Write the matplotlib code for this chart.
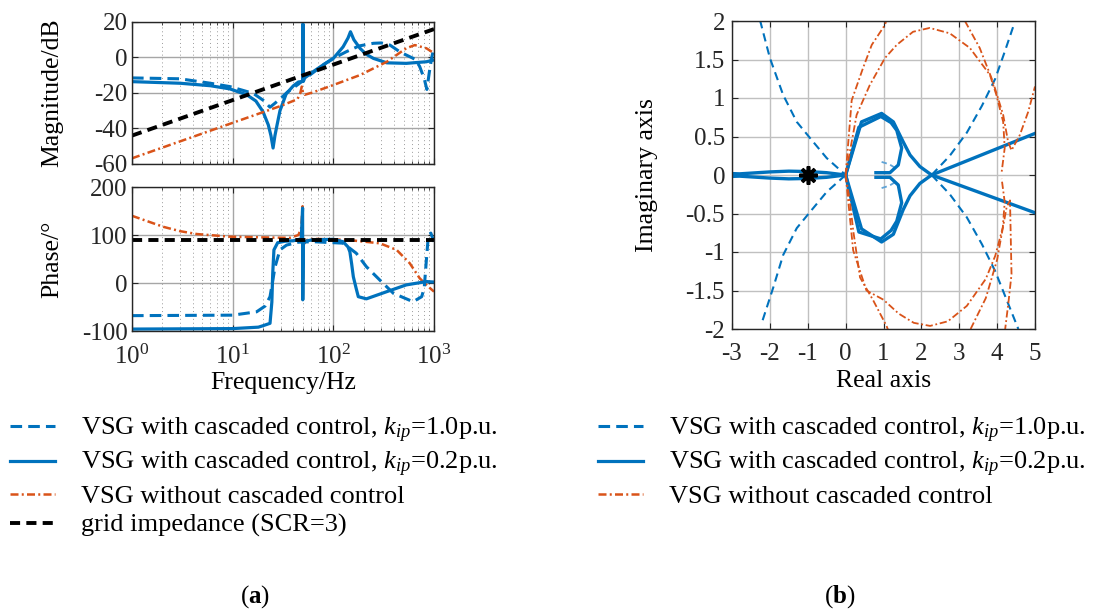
import numpy as np
import matplotlib
matplotlib.use("Agg")
import matplotlib.pyplot as plt
from matplotlib.ticker import LogLocator, NullFormatter

plt.rcParams["font.family"] = ["Liberation Serif", "DejaVu Serif"]
plt.rcParams["mathtext.fontset"] = "custom"
plt.rcParams["mathtext.rm"] = "Liberation Serif"
plt.rcParams["mathtext.it"] = "Liberation Serif:italic"
plt.rcParams["mathtext.bf"] = "Liberation Serif:bold"
plt.rcParams["axes.unicode_minus"] = False

BLUE = "#0072BD"
ORANGE = "#D95319"

# ---------------- (a) Bode data ----------------
f_grid = [1, 1000]
mag_grid = [-44, 16]
ph_grid = [90, 90]

f_k10_mag = [1, 3, 6, 9.4, 16, 20, 23.5, 26, 30, 35, 45, 55, 63, 80, 100, 135, 180, 250,
             300, 365, 455, 530, 650, 720, 800, 850, 900, 950, 1000]
mag_k10 = [-11.5, -12, -14.5, -16.4, -20.2, -24, -28, -26, -23, -19.5, -15, -11, -8.5, -4, -0.5,
           3.3, 6.5, 8, 8.2, 7, 3.3, 1.4, -1, -5, -12, -18, -8, 0, 6]

f_k02_mag = [1, 3, 6, 9.4, 13.8, 17, 20, 22.6, 24, 25.2, 26.3, 27.6, 29.5, 34, 40, 45, 49.5,
             49.9, 50.3, 52, 63, 80, 100, 125, 140, 148, 160, 184, 210, 250, 340, 530, 840, 1000]
mag_k02 = [-13.6, -14.5, -15.9, -17.7, -21, -24.5, -30.5, -38, -44, -51, -44, -38, -30, -20.5,
           -16, -13.8, -13.5, 19, -13.5, -11.5, -8, -4, -0.5, 6, 11, 14.5, 10, 5.2, 2, -0.5,
           -3, -3.3, -2.4, -1.4]

f_wo_mag = [1, 10, 30, 44, 47, 48.6, 50, 52, 63, 100, 184, 340, 530, 645, 840, 1000]
mag_wo = [-56.8, -36.8, -27.3, -23.5, -20, -16.4, -20, -21, -19.6, -15.5, -9.9, -2.4, 5.2, 7,
          5.2, 2.4]

f_k10_ph = [1, 10, 17.3, 21, 23.5, 26.4, 29.5, 34.3, 45, 63, 125, 169, 213, 290, 395, 620,
            755, 800, 840, 880, 930, 1000]
ph_k10 = [-68, -67, -60, -48, -28.5, 34, 69, 79, 85, 86, 83, 62, 34, 6, -21.5, -39, -28.5,
          -10, 48, 100, 104, 86]

f_k02_ph = [1, 10, 18, 20, 23.5, 24.5, 25, 25.7, 28, 33, 40, 48, 49.5, 49.7, 50.3, 51, 55, 63,
            100, 125, 140, 146, 152, 158, 168, 177, 213, 340, 530, 840, 1000]
ph_k02 = [-96, -95, -92, -89, -84, -40, 20, 69, 84, 87, 88, 92, 156, -35, 80, 85, 88, 90, 91,
          86, 75, 65, 40, 13, -10, -28.5, -33, -18, -4, 3, 2]

f_wo_ph = [1, 2.05, 3, 4.4, 9.4, 20, 37, 45, 48, 49.5, 49.7, 50.5, 55, 63, 135, 290, 425, 575,
           720, 850, 1000]
ph_wo = [140, 117, 108, 102, 96.5, 95, 94, 100, 115, 160, -35, 80, 90, 92, 90, 82.7, 69, 41,
         10, -5, -18]

# ---------------- (b) Nyquist data ----------------
# kip = 1.0 (dashed)
k10_re_ul = [-2.26, -2.0, -1.65, -1.29, -0.94, -0.5, 0.0]
k10_im_ul = [2.01, 1.52, 1.04, 0.69, 0.48, 0.22, 0.0]
k10_re_ll = [0.0, -0.5, -0.94, -1.29, -1.65, -1.91, -2.22]
k10_im_ll = [0.0, -0.22, -0.48, -0.69, -1.04, -1.46, -1.93]
k10_re_ur = [2.27, 2.75, 3.2, 3.6, 3.95, 4.2, 4.42]
k10_im_ur = [0.0, 0.25, 0.55, 0.9, 1.25, 1.6, 1.92]
k10_re_lr = [2.27, 2.75, 3.2, 3.6, 3.95, 4.25, 4.56]
k10_im_lr = [0.0, -0.25, -0.55, -0.9, -1.25, -1.62, -2.0]
k10_re_mid = [0.95, 1.15, 1.35]
k10_im_mid = [0.17, 0.14, 0.08]

# kip = 0.2 (solid)
k02_re_lens = [-3.1, -2.8, -2.0, -1.5, -1.0, -0.5, 0.0]
k02_im_lens = [0.02, 0.015, 0.04, 0.05, 0.045, 0.03, 0.0]
k02_re_outer = [0.0, 0.42, 0.95, 1.26, 1.52, 1.7, 1.96, 2.27]
k02_im_outer_up = [0.0, 0.69, 0.8, 0.69, 0.43, 0.26, 0.11, 0.0]
k02_im_outer_lo = [0.0, -0.70, -0.87, -0.77, -0.45, -0.27, -0.11, 0.0]
k02_re_inner = [0.0, 0.35, 0.93, 1.2, 1.35, 1.48, 1.39, 1.17, 0.8]
k02_im_inner_up = [0.0, 0.62, 0.76, 0.68, 0.58, 0.35, 0.13, 0.03, 0.03]
k02_im_inner_lo = [0.0, -0.74, -0.83, -0.72, -0.6, -0.36, -0.13, -0.03, -0.03]
k02_re_ray = [2.27, 5.0]
k02_im_ray_up = [0.0, 0.54]
k02_im_ray_lo = [0.0, -0.49]

# without cascaded control (dash-dot)
wo_re_b1u = [0.0, 0.16, 0.46, 0.69, 1.04, 1.1]
wo_im_b1u = [0.0, 0.97, 1.39, 1.69, 1.95, 2.05]
wo_re_b1l = [0.0, 0.11, 0.2, 0.38, 0.73, 1.08, 1.15]
wo_im_b1l = [0.0, -0.33, -0.72, -1.33, -1.63, -1.96, -2.05]
wo_re_b2u = [0.0, 0.29, 0.64, 1.04, 1.35, 1.78, 2.22, 2.75, 3.28, 3.81, 3.98, 4.16, 4.2, 4.12]
wo_im_b2u = [0.0, 0.78, 1.17, 1.52, 1.69, 1.86, 1.91, 1.84, 1.65, 1.3, 1.04, 0.69, 0.35, 0.04]
wo_re_b2l = [0.0, 0.2, 0.55, 1.0, 1.4, 1.8, 2.23, 2.7, 3.2, 3.7, 3.95, 4.15, 4.2, 4.12]
wo_im_b2l = [0.0, -0.98, -1.5, -1.62, -1.8, -1.92, -1.96, -1.9, -1.7, -1.35, -1.05, -0.68,
             -0.35, -0.05]
wo_re_b3u = [3.15, 3.54, 3.89, 4.16, 4.29, 4.38, 4.6, 4.82, 5.0]
wo_im_b3u = [2.0, 1.65, 1.21, 0.78, 0.43, 0.32, 0.52, 0.82, 1.15]
wo_re_b3l = [3.3, 3.7, 4.0, 4.12, 4.25, 4.34, 4.38, 4.3, 4.2]
wo_im_b3l = [-2.0, -1.6, -1.1, -0.77, -0.42, -0.33, -1.29, -1.65, -2.05]

crit_re = [-1.0]
crit_im = [0.0]

labels = [r"VSG with cascaded control, $k_{ip}$=1.0p.u.",
          r"VSG with cascaded control, $k_{ip}$=0.2p.u.",
          "VSG without cascaded control",
          "grid impedance (SCR=3)"]

W, H = 1093, 612
fig = plt.figure(figsize=(W / 100, H / 100), dpi=100)


def box(l, t, r, b):
    return [l / W, 1 - b / H, (r - l) / W, (b - t) / H]


def style(ax, log=False):
    ax.tick_params(direction="in", which="both", top=True, right=True, labelsize=18,
                   colors="#262626", length=4, pad=3)
    ax.tick_params(which="minor", length=2)
    for s in ax.spines.values():
        s.set_color("#262626")
        s.set_linewidth(1.0)
    ax.grid(True, which="major", color="#a6a6a6", lw=1.0)
    if log:
        ax.xaxis.set_minor_locator(LogLocator(base=10, subs=np.arange(2, 10), numticks=20))
        ax.xaxis.set_minor_formatter(NullFormatter())
        ax.grid(True, which="minor", color="#9a9a9a", lw=0.7, ls=(0, (1, 3)))
    ax.set_axisbelow(True)


ax_m = fig.add_axes(box(132, 22, 434, 164))
ax_p = fig.add_axes(box(132, 187, 434, 331))
ax_n = fig.add_axes(box(732, 21, 1035, 329))

sty_k10 = dict(color=BLUE, lw=2.2, dashes=(3.8, 2.0))
sty_k02 = dict(color=BLUE, lw=2.3)
sty_wo = dict(color=ORANGE, lw=1.8, dashes=(3.2, 1.3, 0.8, 1.3))
sty_grid = dict(color="black", lw=2.8, dashes=(2.6, 1.6))

h1, = ax_m.semilogx(f_k10_mag, mag_k10, **sty_k10)
h2, = ax_m.semilogx(f_k02_mag, mag_k02, **sty_k02)
h3, = ax_m.semilogx(f_wo_mag, mag_wo, **sty_wo)
h4, = ax_m.semilogx(f_grid, mag_grid, **sty_grid)

# orange first so the blue 50 Hz spike stays visible on top
ax_p.semilogx(f_wo_ph, ph_wo, **sty_wo)
ax_p.semilogx(f_k10_ph, ph_k10, **sty_k10)
ax_p.semilogx(f_k02_ph, ph_k02, **sty_k02)
ax_p.semilogx(f_grid, ph_grid, **sty_grid)

for ax in (ax_m, ax_p):
    ax.set_xlim(1, 1000)
    style(ax, log=True)
    ax.yaxis.set_label_coords(-0.228, 0.5)

ax_m.set_ylim(-60, 20)
ax_m.set_yticks([-60, -40, -20, 0, 20])
ax_m.tick_params(labelbottom=False)
ax_m.set_ylabel("Magnitude/dB", fontsize=18.5)

ax_p.set_ylim(-100, 200)
ax_p.set_yticks([-100, 0, 100, 200])
ax_p.set_xticks([1, 10, 100, 1000])
ax_p.set_xticklabels([r"$10^{0}$", r"$10^{1}$", r"$10^{2}$", r"$10^{3}$"])
ax_p.tick_params(axis="x", pad=10)
ax_p.set_ylabel("Phase/\u00b0", fontsize=18.5)
ax_p.set_xlabel("Frequency/Hz", fontsize=18.5)
ax_p.xaxis.set_label_coords(0.5, -0.283)

# Nyquist
nd = dict(color=BLUE, lw=1.5, dashes=(4, 2.5))
ns = dict(color=BLUE, lw=2.4)
no = dict(color=ORANGE, lw=1.3, dashes=(4, 1.5, 1, 1.5))
ax_n.plot(k10_re_ul, k10_im_ul, **nd)
ax_n.plot(k10_re_ll, k10_im_ll, **nd)
ax_n.plot(k10_re_ur, k10_im_ur, **nd)
ax_n.plot(k10_re_lr, k10_im_lr, **nd)
ax_n.plot(k10_re_mid, k10_im_mid, color="#5fa3d6", lw=1.3, dashes=(3, 2))
ax_n.plot(k10_re_mid, [-v for v in k10_im_mid], color="#5fa3d6", lw=1.3, dashes=(3, 2))

ax_n.plot(k02_re_lens, k02_im_lens, **ns)
ax_n.plot(k02_re_lens, [-v for v in k02_im_lens], **ns)
ax_n.plot(k02_re_outer, k02_im_outer_up, **ns)
ax_n.plot(k02_re_outer, k02_im_outer_lo, **ns)
ax_n.plot(k02_re_inner, k02_im_inner_up, **ns)
ax_n.plot(k02_re_inner, k02_im_inner_lo, **ns)
ax_n.plot(k02_re_ray, k02_im_ray_up, **ns)
ax_n.plot(k02_re_ray, k02_im_ray_lo, **ns)

ax_n.plot(wo_re_b1u, wo_im_b1u, **no)
ax_n.plot(wo_re_b1l, wo_im_b1l, **no)
ax_n.plot(wo_re_b2u, wo_im_b2u, **no)
ax_n.plot(wo_re_b2l, wo_im_b2l, **no)
ax_n.plot(wo_re_b3u, wo_im_b3u, **no)
ax_n.plot(wo_re_b3l, wo_im_b3l, **no)

ax_n.plot(crit_re, crit_im, ls="none", marker=(8, 2, 0), ms=13, mew=2.6, color="black")

ax_n.set_xlim(-3, 5)
ax_n.set_ylim(-2, 2)
ax_n.set_xticks(range(-3, 6))
ax_n.set_yticks([-2, -1.5, -1, -0.5, 0, 0.5, 1, 1.5, 2])
ax_n.set_yticklabels(["-2", "-1.5", "-1", "-0.5", "0", "0.5", "1", "1.5", "2"])
style(ax_n)
ax_n.grid(True, which="major", color="#c0c0c0", lw=1.0)
ax_n.tick_params(axis="x", pad=10)
ax_n.tick_params(axis="y", pad=5)
ax_n.set_xlabel("Real axis", fontsize=18.5)
ax_n.set_ylabel("Imaginary axis", fontsize=18.5)
ax_n.xaxis.set_label_coords(0.5, -0.133)
ax_n.yaxis.set_label_coords(-0.244, 0.5)

leg_kw = dict(loc="upper left", frameon=False, fontsize=19, borderpad=0, borderaxespad=0,
              handlelength=1.7, handletextpad=1.0, labelspacing=0.2)
fig.legend([h1, h2, h3, h4], labels, bbox_to_anchor=(10 / W, 1 - 416 / H), **leg_kw)
fig.legend([h1, h2, h3], labels[:3], bbox_to_anchor=(598 / W, 1 - 416 / H), **leg_kw)

fig.text(255 / W, 1 - 597 / H, r"($\mathbf{a}$)", ha="center", va="center", fontsize=18)
fig.text(840 / W, 1 - 597 / H, r"($\mathbf{b}$)", ha="center", va="center", fontsize=18)

fig.savefig("out.png", dpi=100)
